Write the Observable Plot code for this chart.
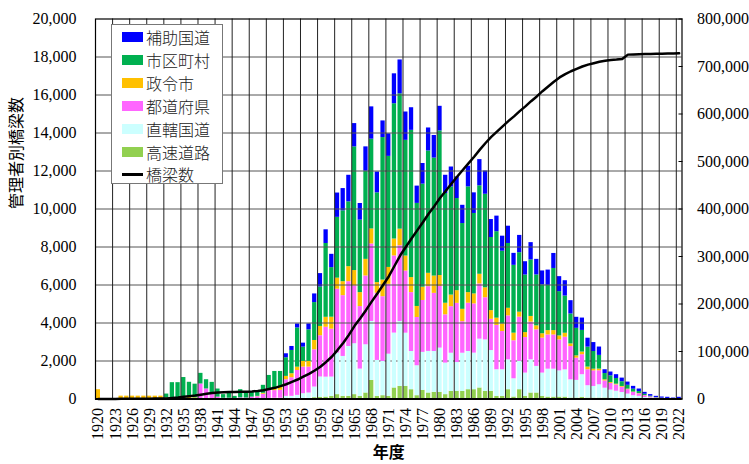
<!DOCTYPE html>
<html><head><meta charset="utf-8">
<script src="https://cdn.jsdelivr.net/npm/d3@7"></script>
<script src="https://cdn.jsdelivr.net/npm/@observablehq/plot@0.6"></script>
<style>
body{margin:0;background:#fff;}
#wrap{position:relative;width:749px;height:464px;overflow:hidden;}
#legend{position:absolute;left:111px;top:24px;width:112px;height:160px;border:1px solid #777;background:#fff;box-sizing:border-box;font-family:"Noto Sans CJK JP";font-weight:300;font-size:16px;color:#222;}
.row{position:absolute;left:10px;height:22px;display:flex;align-items:center;white-space:nowrap;}
.sw{width:21px;height:10px;margin-right:3px;flex:none;}
#wrap svg g[aria-label$="tick label"], #wrap svg g[aria-label$="tick label"] text{font-family:"Liberation Serif","Tinos","DejaVu Serif","Times New Roman",serif !important;}
</style></head><body><div id="wrap"></div>
<script>
const years = d3.range(1920, 2023);

// 高速道路
const kosoku = [
  0,0,0,0,0,0,0,0,0,0,
  0,0,0,0,0,0,0,0,0,0,
  0,0,0,0,0,0,0,0,0,0,
  0,0,0,0,0,0,0,0,70,90,
  100,140,230,140,140,230,140,315,980,140,
  175,140,580,665,665,490,175,455,315,350,
  350,230,400,400,400,490,490,580,400,400,
  140,140,490,105,490,140,315,315,140,100,
  100,100,100,50,50,90,50,50,50,50,
  40,30,30,20,15,10,5,0,0,0,
  0,0,0];
// 直轄国道
const chokkatsu = [
  0,0,0,0,0,0,0,0,0,0,
  0,0,0,0,0,0,0,0,0,0,
  0,0,0,0,0,0,0,0,0,0,
  30,40,40,140,140,190,280,315,560,1070,
  1050,1015,2190,2100,2625,2680,1435,2540,3100,1890,
  1800,2220,2890,3410,2800,2010,1575,2000,2190,2150,
  2330,1660,2010,1520,2010,2010,1925,2570,2710,2150,
  1400,1400,1575,960,1490,1225,1750,1400,1225,1470,
  1470,1380,1435,960,930,1190,650,610,700,520,
  430,380,310,240,160,130,75,50,30,15,
  10,5,10];
// 都道府県
const todofuken = [
  0,0,0,0,0,0,0,0,0,0,
  0,0,0,0,0,0,0,0,790,530,
  320,100,40,40,20,60,50,100,120,250,
  420,400,420,875,980,1310,1400,1365,1960,2170,
  2625,2520,3360,3200,3410,3045,3290,3620,4080,3535,
  3410,3675,4060,3990,3270,3100,2540,2730,3410,3060,
  3240,2540,2450,3115,1660,2540,2590,2905,2220,1645,
  2330,2010,2310,2000,2330,1870,1980,1925,1840,1800,
  1800,1630,1715,1750,1170,1050,840,820,735,380,
  350,330,280,230,170,130,90,55,30,20,
  10,5,5];
// 政令市
const seirei = [
  490,0,0,0,150,150,150,150,150,150,
  150,150,60,60,60,80,80,60,0,0,
  0,0,0,0,0,0,0,0,20,50,
  70,100,150,175,210,175,300,300,490,490,
  525,630,580,735,790,805,735,875,790,560,
  875,890,890,875,790,790,580,700,700,910,
  580,610,610,665,650,560,525,510,525,455,
  385,400,400,400,260,260,300,210,230,230,
  230,210,210,140,120,140,140,90,90,60,
  50,40,40,30,20,15,10,5,0,0,
  0,0,0];
// 市区町村
const shikuchoson = [
  0,0,0,0,0,0,0,0,0,0,
  0,0,200,800,800,1050,800,720,560,485,
  555,425,190,260,120,430,300,270,260,420,
  720,910,840,980,1225,2065,750,1660,1995,2080,
  3885,2610,3200,3730,3410,6510,3815,4640,4725,4725,
  7500,5845,7120,7120,6090,7750,5425,5425,6440,6210,
  7610,5775,5690,4850,4515,5565,4235,4655,4920,3850,
  4550,3830,3410,3570,3130,3030,2975,2680,2570,2380,
  3270,2330,1960,1575,1450,1140,1050,930,720,330,
  350,300,250,200,150,110,70,40,20,10,
  10,0,5];
// 補助国道
const hojo = [
  0,0,0,0,0,0,0,0,0,0,
  0,0,0,0,0,0,0,0,0,0,
  0,0,0,0,0,0,0,0,0,0,
  0,0,0,210,210,210,210,315,455,700,
  720,700,1280,1170,1400,1225,875,1280,1700,1100,
  875,1190,1575,1785,1490,1190,910,1085,1210,1190,
  1295,960,1050,1140,960,1085,1085,1380,1225,945,
  820,790,910,630,910,700,910,820,735,805,
  790,790,805,700,580,650,470,470,440,200,
  200,200,190,170,150,130,100,80,60,60,
  60,40,70];
// 橋梁数（累計, 右軸）
const kyoryosu = [
  200,200,200,250,300,350,400,500,550,650,
  800,1000,1300,2200,3200,4500,5800,7200,9000,11000,
  12800,13800,14200,14500,14800,15100,15500,16000,17000,18500,
  21000,23500,27000,31000,36000,41000,47000,53000,60000,68000,
  78000,89000,103000,118000,135000,154000,170000,187000,205000,222000,
  240000,258000,280000,302000,320000,338000,355000,372000,390000,406000,
  423000,438000,453000,468000,482000,496000,510000,525000,539000,552000,
  563000,574000,585000,595000,606000,616000,627000,637000,648000,658000,
  668000,677000,684000,690000,695000,700000,704000,707000,710000,712000,
  713500,714500,716000,725000,725500,726000,726200,726500,726700,727000,
  727200,727500,728000];

const stackNames = ["高速道路","直轄国道","都道府県","政令市","市区町村","補助国道"];
const stackValues = [kosoku, chokkatsu, todofuken, seirei, shikuchoson, hojo];
const stackColors = ["#92D050","#CCFFFF","#FF66FF","#FFC000","#00B050","#0000FF"];
const legendNames = ["補助国道","市区町村","政令市","都道府県","直轄国道","高速道路"];
const lineName = "橋梁数";
const leftTicks = [0,2000,4000,6000,8000,10000,12000,14000,16000,18000,20000];
const rightTicks = [0,100000,200000,300000,400000,500000,600000,700000,800000];
const xTicks = d3.range(1920, 2023, 3);
const ratio = 800000 / 20000;

const table = [];
years.forEach((yr, i) => stackNames.forEach((n, k) => table.push({year: yr, series: n, value: stackValues[k][i]})));
const lineData = years.map((yr, i) => ({year: yr, count: kyoryosu[i]}));
const fmt = d3.format(",");
const serif = "Liberation Serif, Tinos, DejaVu Serif, serif";
const cjk = "Noto Sans CJK JP";

const chart = Plot.plot({
  width: 749, height: 464,
  marginLeft: 95, marginRight: 67.5, marginTop: 18.5, marginBottom: 65.5,
  x: {type: "linear", domain: [1919.5, 2022.5]},
  y: {domain: [0, 20000]},
  color: {domain: stackNames, range: stackColors},
  style: {fontFamily: serif, fontSize: "16px", color: "black", background: "white", overflow: "visible"},
  marks: [
    Plot.gridY([2000], {stroke: "#555", strokeOpacity: 1}),
    Plot.rectY(table, Plot.stackY({x: "year", x1: d => d.year - 0.5, x2: d => d.year + 0.5, y: "value", fill: "series", insetLeft: 0.7, insetRight: 0.7})),
    Plot.gridY(leftTicks.filter(t => t !== 2000 && t > 0 && t < 20000), {stroke: "#555", strokeOpacity: 1}),
    Plot.ruleX(xTicks.filter(t => t > 1920).map(t => t - 0.5), {stroke: "#222", strokeWidth: 1}),
    Plot.line(lineData, {x: "year", y: d => d.count / ratio, stroke: "black", strokeWidth: 2.5}),
    Plot.frame({stroke: "black", strokeWidth: 1.2}),
    Plot.ruleY([0], {stroke: "black", strokeWidth: 2}),
    Plot.axisY(leftTicks, {anchor: "left", tickSize: 0, tickPadding: 19, tickFormat: fmt, label: null, fill: "black", fontFamily: serif, fontSize: 16}),
    Plot.axisY(rightTicks.map(v => v / ratio), {anchor: "right", tickSize: -4, tickPadding: 19, tickFormat: d => fmt(Math.round(d * ratio)), label: null, fill: "black", fontFamily: serif, fontSize: 16}),
    Plot.axisX(xTicks, {anchor: "bottom", tickRotate: -90, tickSize: 0, tickPadding: 9, tickFormat: d => String(d), label: null, fill: "black", fontFamily: serif, fontSize: 16}),
    Plot.text(["管理者別橋梁数"], {text: d => d, frameAnchor: "left", dx: -79, rotate: -90, fontFamily: cjk, fontSize: 16, fill: "black"}),
    Plot.text(["年度"], {text: d => d, frameAnchor: "bottom", dy: 54, lineAnchor: "middle", fontFamily: cjk, fontWeight: "bold", fontSize: 16, fill: "black"})
  ]
});
const wrap = document.getElementById("wrap");
wrap.appendChild(chart);

const legend = document.createElement("div");
legend.id = "legend";
legendNames.forEach((n, k) => {
  const row = document.createElement("div");
  row.className = "row";
  row.style.top = (1 + k * 22.9) + "px";
  const sw = document.createElement("div");
  sw.className = "sw";
  sw.style.background = stackColors[stackNames.indexOf(n)];
  row.appendChild(sw);
  row.appendChild(document.createTextNode(n));
  legend.appendChild(row);
});
{
  const row = document.createElement("div");
  row.className = "row";
  row.style.top = (1 + 6 * 22.9) + "px";
  const sw = document.createElement("div");
  sw.className = "sw";
  sw.style.height = "3px";
  sw.style.background = "#000";
  row.appendChild(sw);
  row.appendChild(document.createTextNode(lineName));
  legend.appendChild(row);
}
wrap.appendChild(legend);
</script></body></html>
